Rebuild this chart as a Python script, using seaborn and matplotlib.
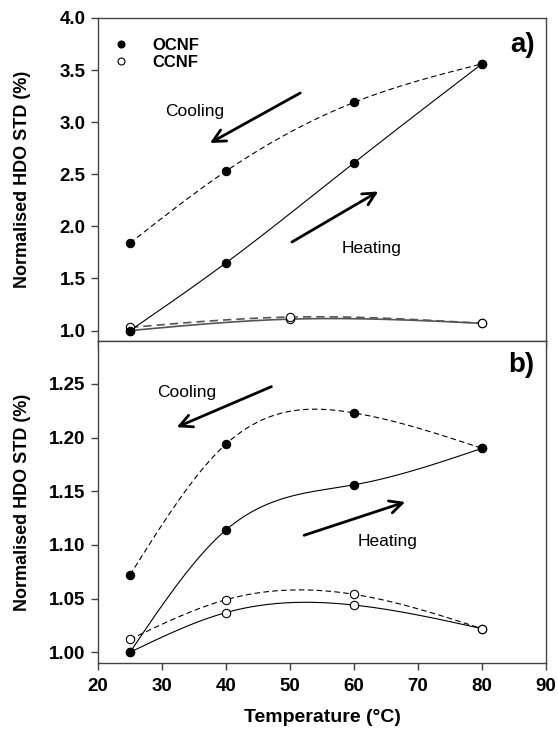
import numpy as np
import pandas as pd
import matplotlib
matplotlib.use("Agg")
import matplotlib.pyplot as plt
from matplotlib.lines import Line2D
import seaborn as sns

# ---- data -------------------------------------------------------------
temps = [25, 40, 60, 80]

# panel a)
ocnf_heat_a = [1.00, 1.65, 2.61, 3.56]
ocnf_cool_a = [1.84, 2.53, 3.19, 3.56]
ccnf_temps_a = [25, 50, 80]
ccnf_heat_a = [1.00, 1.11, 1.07]
ccnf_cool_a = [1.03, 1.13, 1.07]

# panel b)
ocnf_heat_b = [1.000, 1.114, 1.156, 1.190]
ocnf_cool_b = [1.072, 1.194, 1.223, 1.190]
ccnf_heat_b = [1.000, 1.037, 1.044, 1.022]
ccnf_cool_b = [1.012, 1.049, 1.054, 1.022]

yticks_a = [1.0, 1.5, 2.0, 2.5, 3.0, 3.5, 4.0]
yticks_b = [1.00, 1.05, 1.10, 1.15, 1.20, 1.25]
xticks = [20, 30, 40, 50, 60, 70, 80, 90]


def natural_spline(x, y, n=200):
    """Natural cubic spline through the given points."""
    x = np.asarray(x, float)
    y = np.asarray(y, float)
    k = len(x)
    if k < 3:
        xs = np.linspace(x[0], x[-1], n)
        return xs, np.interp(xs, x, y)
    h = np.diff(x)
    A = np.zeros((k, k))
    r = np.zeros(k)
    A[0, 0] = A[-1, -1] = 1.0
    for i in range(1, k - 1):
        A[i, i - 1] = h[i - 1]
        A[i, i] = 2 * (h[i - 1] + h[i])
        A[i, i + 1] = h[i]
        r[i] = 6 * ((y[i + 1] - y[i]) / h[i] - (y[i] - y[i - 1]) / h[i - 1])
    M = np.linalg.solve(A, r)
    xs = np.linspace(x[0], x[-1], n)
    idx = np.clip(np.searchsorted(x, xs) - 1, 0, k - 2)
    x0, x1 = x[idx], x[idx + 1]
    hh = x1 - x0
    a = (x1 - xs) / hh
    b = (xs - x0) / hh
    ys = (a * y[idx] + b * y[idx + 1]
          + ((a ** 3 - a) * M[idx] + (b ** 3 - b) * M[idx + 1]) * hh ** 2 / 6)
    return xs, ys


sns.set_style("ticks")
plt.rcParams["font.family"] = ["Liberation Sans", "DejaVu Sans"]
plt.rcParams["text.color"] = "black"
plt.rcParams["axes.labelcolor"] = "black"
plt.rcParams["axes.edgecolor"] = "#444444"
plt.rcParams["xtick.color"] = "#444444"
plt.rcParams["ytick.color"] = "#444444"
plt.rcParams["xtick.labelcolor"] = "black"
plt.rcParams["ytick.labelcolor"] = "black"

TICK_FS = 13.5
LABEL_FS = 13
NOTE_FS = 12.5

fig = plt.figure(figsize=(5.58, 7.31), dpi=100)
ax_a = fig.add_axes([0.1756, 0.5335, 0.8029, 0.4419])
ax_b = fig.add_axes([0.1756, 0.0930, 0.8029, 0.4405])

dash = (5, 3)


def draw_series(ax, x, y, dashed, filled, lw=0.8, color="black"):
    xs, ys = natural_spline(x, y)
    df = pd.DataFrame({"T": xs, "v": ys})
    line = sns.lineplot(data=df, x="T", y="v", ax=ax, color=color, lw=lw,
                        sort=False, estimator=None, zorder=2)
    if dashed:
        line.lines[-1].set_dashes(dash)
    pts = pd.DataFrame({"T": x, "v": y})
    sns.scatterplot(data=pts, x="T", y="v", ax=ax, s=36, zorder=3,
                    color="black" if filled else "white",
                    edgecolor="black", linewidth=0.8)


# panel a)
draw_series(ax_a, ccnf_temps_a, ccnf_heat_a, False, False, lw=1.2, color="#555555")
draw_series(ax_a, ccnf_temps_a, ccnf_cool_a, True, False, lw=1.2, color="#555555")
draw_series(ax_a, temps, ocnf_heat_a, False, True)
draw_series(ax_a, temps, ocnf_cool_a, True, True)

# panel b)
draw_series(ax_b, temps, ccnf_heat_b, False, False)
draw_series(ax_b, temps, ccnf_cool_b, True, False)
draw_series(ax_b, temps, ocnf_heat_b, False, True)
draw_series(ax_b, temps, ocnf_cool_b, True, True)

for ax in (ax_a, ax_b):
    ax.set_xlim(20, 90)
    ax.set_xticks(xticks)
    ax.tick_params(direction="out", length=5, width=1, pad=4)
    ax.tick_params(axis="x", pad=6)
    for sp in ax.spines.values():
        sp.set_visible(True)
        sp.set_linewidth(1.0)
    ax.set_ylabel("Normalised HDO STD (%)", fontsize=LABEL_FS, fontweight="bold")
    ax.yaxis.set_label_coords(-0.15, 0.5)
    ax.set_xlabel("")

ax_a.set_ylim(0.9, 4.0)
ax_a.set_yticks(yticks_a)
ax_a.set_yticklabels([f"{v:.1f}" for v in yticks_a], fontsize=TICK_FS, fontweight="bold")
ax_a.tick_params(axis="x", labelbottom=False)

ax_b.set_ylim(0.99, 1.29)
ax_b.set_yticks(yticks_b)
ax_b.set_yticklabels([f"{v:.2f}" for v in yticks_b], fontsize=TICK_FS, fontweight="bold")
ax_b.set_xticklabels([str(v) for v in xticks], fontsize=TICK_FS, fontweight="bold")
ax_b.set_xlabel("Temperature (°C)", fontsize=14, fontweight="bold", labelpad=10)

# panel labels
ax_a.text(0.975, 0.916, "a)", transform=ax_a.transAxes, ha="right", va="center",
          fontsize=20, fontweight="bold")
ax_b.text(0.975, 0.925, "b)", transform=ax_b.transAxes, ha="right", va="center",
          fontsize=20, fontweight="bold")

# legend
handles = [
    Line2D([], [], ls="none", marker="o", ms=5, mfc="black", mec="black", mew=0.8),
    Line2D([], [], ls="none", marker="o", ms=5, mfc="white", mec="black", mew=0.8),
]
ax_a.legend(handles, ["OCNF", "CCNF"], loc="upper left", frameon=False,
            bbox_to_anchor=(-0.012, 0.975), prop={"weight": "bold", "size": 12},
            handletextpad=0.9, labelspacing=0.15, borderaxespad=0.3)

arrow = dict(arrowstyle="->,head_length=0.9,head_width=0.45", lw=2, color="black",
             shrinkA=0, shrinkB=0)

# heating / cooling arrows, panel a)
ax_a.annotate("", xy=(37.5, 2.80), xytext=(51.6, 3.28), arrowprops=arrow)
ax_a.text(30.5, 3.10, "Cooling", fontsize=NOTE_FS, va="center", ha="left")
ax_a.annotate("", xy=(63.8, 2.335), xytext=(50.3, 1.85), arrowprops=arrow)
ax_a.text(58.1, 1.79, "Heating", fontsize=NOTE_FS, va="center", ha="left")

# heating / cooling arrows, panel b)
ax_b.annotate("", xy=(32.3, 1.2097), xytext=(47.1, 1.2475), arrowprops=arrow)
ax_b.text(29.2, 1.242, "Cooling", fontsize=NOTE_FS, va="center", ha="left")
ax_b.annotate("", xy=(68.0, 1.140), xytext=(52.2, 1.109), arrowprops=arrow)
ax_b.text(60.5, 1.103, "Heating", fontsize=NOTE_FS, va="center", ha="left")

fig.savefig("out.png", dpi=100)
